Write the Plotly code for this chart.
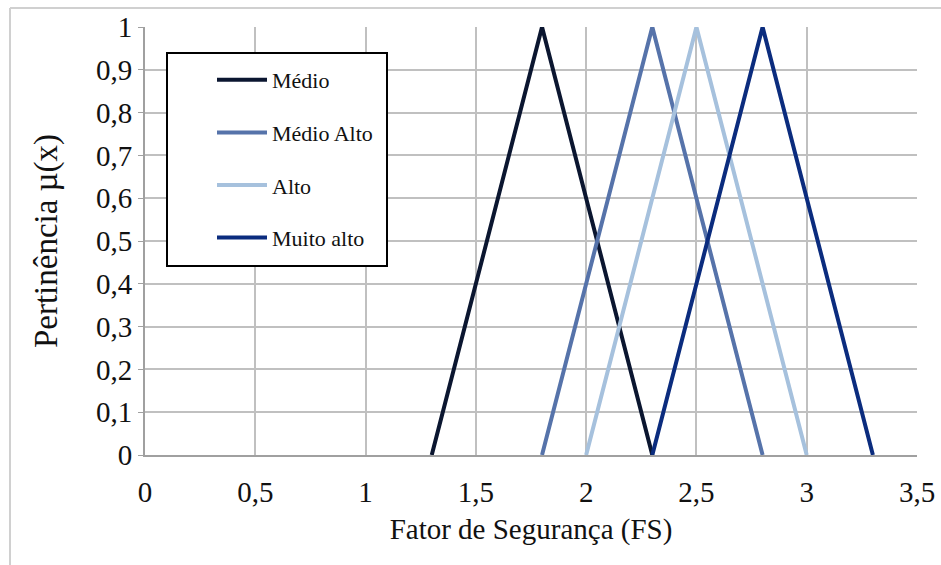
import plotly.graph_objects as go

# Data
series_names = ["Médio", "Médio Alto", "Alto", "Muito alto"]
x_medio = [1.3, 1.8, 2.3]
y_medio = [0, 1, 0]
x_medio_alto = [1.8, 2.3, 2.8]
y_medio_alto = [0, 1, 0]
x_alto = [2.0, 2.5, 3.0]
y_alto = [0, 1, 0]
x_muito_alto = [2.3, 2.8, 3.3]
y_muito_alto = [0, 1, 0]

colors = ["#0B1630", "#5673AA", "#A6C1DD", "#0B2C7E"]

xs = [x_medio, x_medio_alto, x_alto, x_muito_alto]
ys = [y_medio, y_medio_alto, y_alto, y_muito_alto]

FONT = "Liberation Serif"

fig = go.Figure()
for i, (name, x, y, c) in enumerate(zip(series_names, xs, ys, colors)):
    fig.add_trace(go.Scatter(x=x, y=y, mode="lines", name=name,
                             legendgroup=f"g{i}",
                             line=dict(color=c, width=4)))

L, R, T, B = 145, 24, 27, 110
W, H = 941, 565
pw = W - L - R
ph = H - T - B

def px(xp):
    return (xp - L) / pw

def py(yp):
    return 1 - (yp - T) / ph

fig.update_layout(
    width=W, height=H,
    margin=dict(l=L, r=R, t=T, b=B),
    paper_bgcolor="white", plot_bgcolor="white",
    separators=",.",
    font=dict(family=FONT, color="#111111"),
    showlegend=True,
    legend=dict(
        x=px(212), y=py(59), xanchor="left", yanchor="top",
        bgcolor="rgba(0,0,0,0)", borderwidth=0,
        font=dict(family=FONT, size=22, color="#111111"),
        tracegroupgap=21,
        itemwidth=50,
    ),
    xaxis=dict(
        range=[0, 3.5], dtick=0.5, tick0=0,
        automargin=False,
        showgrid=True, gridcolor="#C0C0C0", gridwidth=2,
        showline=True, linecolor="#A0A0A0", linewidth=2,
        mirror=False, zeroline=False,
        ticks="", tickfont=dict(family=FONT, size=29, color="#111111"),
        ticklabelstandoff=10,
        title=dict(text="Fator de Segurança (FS)", font=dict(family=FONT, size=29, color="#111111"), standoff=12),
    ),
    yaxis=dict(
        range=[0, 1], dtick=0.1, tick0=0,
        automargin=False,
        showgrid=True, gridcolor="#C0C0C0", gridwidth=2,
        showline=True, linecolor="#A0A0A0", linewidth=2,
        zeroline=False,
        ticks="outside", ticklen=5, tickcolor="#A0A0A0", tickwidth=1,
        tickfont=dict(family=FONT, size=29, color="#111111"),
        title=dict(text="Pertinência µ(x)", font=dict(family=FONT, size=33, color="#111111"), standoff=28),
    ),
)

# legend frame
fig.add_shape(type="rect", xref="paper", yref="paper", layer="above",
              x0=px(167), x1=px(387), y0=py(266), y1=py(53),
              fillcolor="white", line=dict(color="#000000", width=2))

# outer frame of the chart object (top and left edges)
fig.add_shape(type="line", xref="paper", yref="paper",
              x0=px(10), x1=1.2, y0=py(8), y1=py(8),
              line=dict(color="#D0D0D0", width=2))
fig.add_shape(type="line", xref="paper", yref="paper",
              x0=px(10), x1=px(10), y0=-0.4, y1=py(8),
              line=dict(color="#D0D0D0", width=2))

fig.write_html("out.html")
